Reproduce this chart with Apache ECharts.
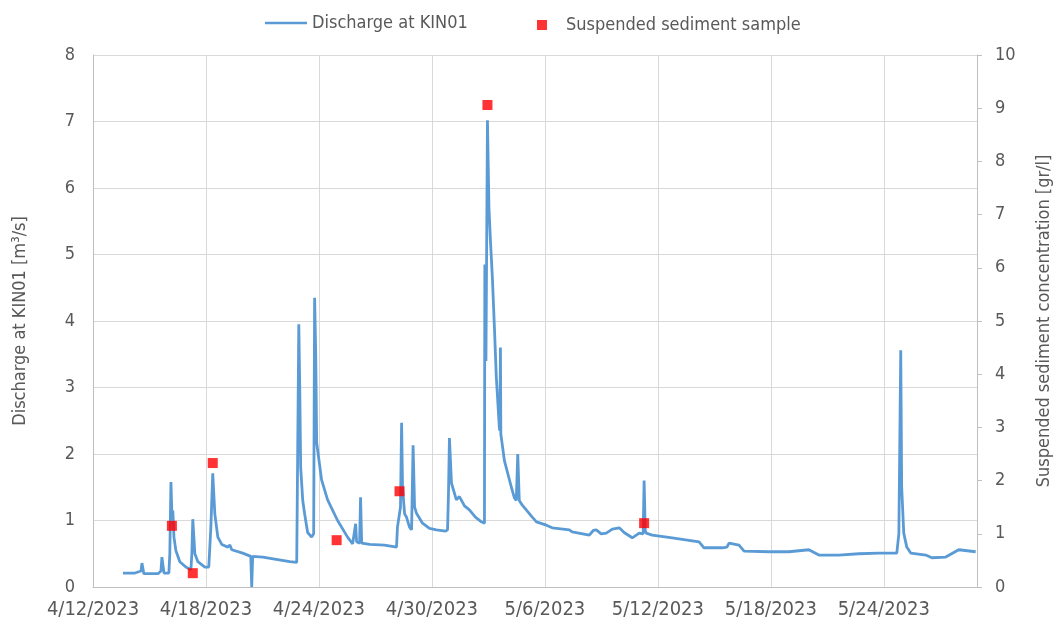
<!DOCTYPE html>
<html>
<head>
<meta charset="utf-8">
<script src="https://cdn.jsdelivr.net/npm/echarts@6/dist/echarts.min.js"></script>
<style>
  html, body { margin: 0; padding: 0; background: #fff; }
  #chart1 { width: 1061px; height: 629px; }
</style>
</head>
<body>
<div id="chart1"></div>
<script>
// time is in days since 4/12/2023 00:00
const flowDay = [1.59, 2.23, 2.55, 2.60, 2.70, 3.45, 3.61, 3.66, 3.77, 4.03, 4.08, 4.14, 4.19, 4.24, 4.30, 4.40, 4.61, 4.93,
  5.20, 5.25, 5.30, 5.41, 5.57, 5.94, 6.15, 6.26, 6.36, 6.47, 6.63, 6.84, 7.16, 7.27, 7.37, 7.95, 8.38, 8.43, 8.48,
  9.02, 9.65, 10.45,
  10.82, 10.93, 10.98, 11.03, 11.14, 11.24, 11.40, 11.61, 11.72, 11.77, 11.83, 11.88, 12.14, 12.46, 12.99, 13.52, 13.79, 13.95,
  14.00, 14.16, 14.21, 14.27, 14.69, 15.48, 16.12, 16.17, 16.33, 16.39, 16.44, 16.55, 16.65, 16.81, 16.92, 17.00,
  17.08, 17.18, 17.50, 17.87, 18.24, 18.72, 18.83, 18.88, 18.93, 19.04, 19.30, 19.46, 19.73, 19.99, 20.31, 20.63,
  20.79, 20.81, 20.87, 20.95, 21.03, 21.11, 21.21, 21.32, 21.42, 21.58, 21.61, 21.64, 21.66, 21.85, 22.22, 22.38,
  22.48, 22.56, 22.64, 22.80, 23.33, 23.55,
  24.08, 24.39, 25.30, 25.45, 26.36, 26.57, 26.73, 26.99, 27.26, 27.58, 27.95, 28.21, 28.64, 29.01, 29.22, 29.27, 29.33,
  29.38, 29.70, 30.76, 32.19, 32.45, 33.41, 33.67, 33.78, 34.31, 34.58, 35.90, 36.96, 38.02, 38.55, 39.61, 40.67,
  41.74, 42.69, 42.80, 42.90, 42.95, 43.06, 43.22, 43.43, 44.23, 44.55, 45.29, 45.98, 46.88];
const flowQ = [0.21, 0.21, 0.24, 0.36, 0.20, 0.20, 0.24, 0.45, 0.21, 0.21, 0.50, 1.58, 1.10, 1.15, 0.75, 0.55, 0.38, 0.30,
  0.26, 0.50, 1.02, 0.50, 0.38, 0.30, 0.30, 0.90, 1.71, 1.10, 0.75, 0.64, 0.60, 0.63, 0.56, 0.51, 0.46, 0.00, 0.46,
  0.45, 0.42, 0.38,
  0.37, 3.95, 3.00, 1.80, 1.30, 1.10, 0.82, 0.75, 0.80, 4.35, 3.50, 2.17, 1.61, 1.31, 1.00, 0.75, 0.65, 0.95,
  0.68, 0.66, 1.35, 0.66, 0.64, 0.63, 0.60, 0.90, 1.20, 2.47, 1.50, 1.10, 1.05, 0.90, 0.86, 2.13,
  1.20, 1.11, 0.96, 0.88, 0.86, 0.84, 0.86, 1.40, 2.24, 1.56, 1.31, 1.36, 1.22, 1.16, 1.05, 0.98,
  0.96, 4.85, 3.40, 7.02, 5.70, 5.20, 4.66, 3.90, 3.16, 2.40, 2.35, 3.60, 2.30, 1.90, 1.50, 1.34,
  1.30, 2.00, 1.30, 1.23, 1.05, 0.98,
  0.93, 0.89, 0.86, 0.83, 0.78, 0.85, 0.86, 0.80, 0.81, 0.87, 0.89, 0.82, 0.74, 0.81, 0.80, 1.60, 0.85,
  0.81, 0.78, 0.74, 0.68, 0.59, 0.59, 0.60, 0.66, 0.63, 0.54, 0.53, 0.53, 0.56, 0.48, 0.48, 0.50,
  0.51, 0.51, 0.80, 3.56, 1.50, 0.81, 0.60, 0.51, 0.48, 0.44, 0.45, 0.56, 0.53];

const sampleDay = [4.19, 5.30, 6.36, 12.94, 16.28, 20.95, 29.27];
const sampleSSC = [1.15, 0.26, 2.33, 0.88, 1.80, 9.06, 1.20];

const leftTicks = { min: 0, max: 8, step: 1 };
const rightTicks = { min: 0, max: 10, step: 1 };
const dayTicks = { min: 0, max: 46.95, step: 6 };

const textColor = "#595959";
const gridColor = "#d9d9d9";
const fontName = "'Liberation Sans Narrow', 'DejaVu Sans Condensed', 'Liberation Sans', sans-serif";

// day offset -> m/d/2023
function dayLabel(d) {
  const t = new Date(Date.UTC(2023, 3, 12) + Math.round(d) * 86400000);
  return (t.getUTCMonth() + 1) + "/" + t.getUTCDate() + "/" + t.getUTCFullYear();
}

const myChart = echarts.init(document.getElementById("chart1"));
const option = {
  backgroundColor: "#fff",
  animation: false,
  textStyle: { fontFamily: fontName, color: textColor },
  legend: [
    {
      data: [{ name: "Discharge at KIN01", icon: "rect" }],
      left: 260,
      top: 9,
      itemWidth: 42,
      itemHeight: 2.5,
      itemGap: 5,
      textStyle: { fontSize: 18, color: textColor, fontFamily: fontName }
    },
    {
      data: [{ name: "Suspended sediment sample", icon: "rect" }],
      left: 532,
      top: 11,
      itemWidth: 10,
      itemHeight: 10,
      textStyle: { fontSize: 18, color: textColor, fontFamily: fontName, padding: [0, 0, 0, 14] }
    }
  ],
  grid: { left: 93, right: 82, top: 55, bottom: 42, containLabel: false },
  xAxis: {
    type: "value",
    min: dayTicks.min,
    max: dayTicks.max,
    interval: dayTicks.step,
    axisLine: { show: true, lineStyle: { color: "#bfbfbf", width: 1 } },
    axisTick: { show: false },
    splitLine: { show: true, lineStyle: { color: gridColor, width: 1 } },
    axisLabel: {
      fontSize: 20,
      color: textColor,
      margin: 13,
      showMaxLabel: false,
      formatter: v => dayLabel(v)
    }
  },
  yAxis: [
    {
      type: "value",
      min: leftTicks.min,
      max: leftTicks.max,
      interval: leftTicks.step,
      name: "Discharge at KIN01 [m³/s]",
      nameLocation: "middle",
      nameGap: 64,
      nameRotate: 90,
      nameTextStyle: { fontSize: 18, color: textColor },
      axisLine: { show: true, lineStyle: { color: "#bfbfbf" } },
      axisTick: { show: false },
      splitLine: { show: true, lineStyle: { color: gridColor, width: 1 } },
      axisLabel: { fontSize: 18, color: textColor, margin: 18 }
    },
    {
      type: "value",
      min: rightTicks.min,
      max: rightTicks.max,
      interval: rightTicks.step,
      position: "right",
      name: "Suspended sediment concentration [gr/l]",
      nameLocation: "middle",
      nameGap: 58,
      nameRotate: 90,
      nameTextStyle: { fontSize: 18, color: textColor },
      axisLine: { show: true, lineStyle: { color: "#bfbfbf" } },
      axisTick: { show: true, inside: false, length: 5, lineStyle: { color: "#bfbfbf" } },
      splitLine: { show: false },
      axisLabel: { fontSize: 18, color: textColor, margin: 18 }
    }
  ],
  series: [
    {
      name: "Discharge at KIN01",
      type: "line",
      yAxisIndex: 0,
      symbol: "none",
      color: "#5b9bd5",
      lineStyle: { width: 2.8, color: "#5b9bd5" },
      data: flowDay.map((d, i) => [d, flowQ[i]]),
      z: 2
    },
    {
      name: "Suspended sediment sample",
      type: "scatter",
      yAxisIndex: 1,
      symbol: "rect",
      symbolSize: 10,
      color: "#ff0000",
      itemStyle: { color: "#ff0000" },
      data: sampleDay.map((d, i) => [d, sampleSSC[i]]),
      z: 3
    }
  ]
};
myChart.setOption(option);
</script>
</body>
</html>
